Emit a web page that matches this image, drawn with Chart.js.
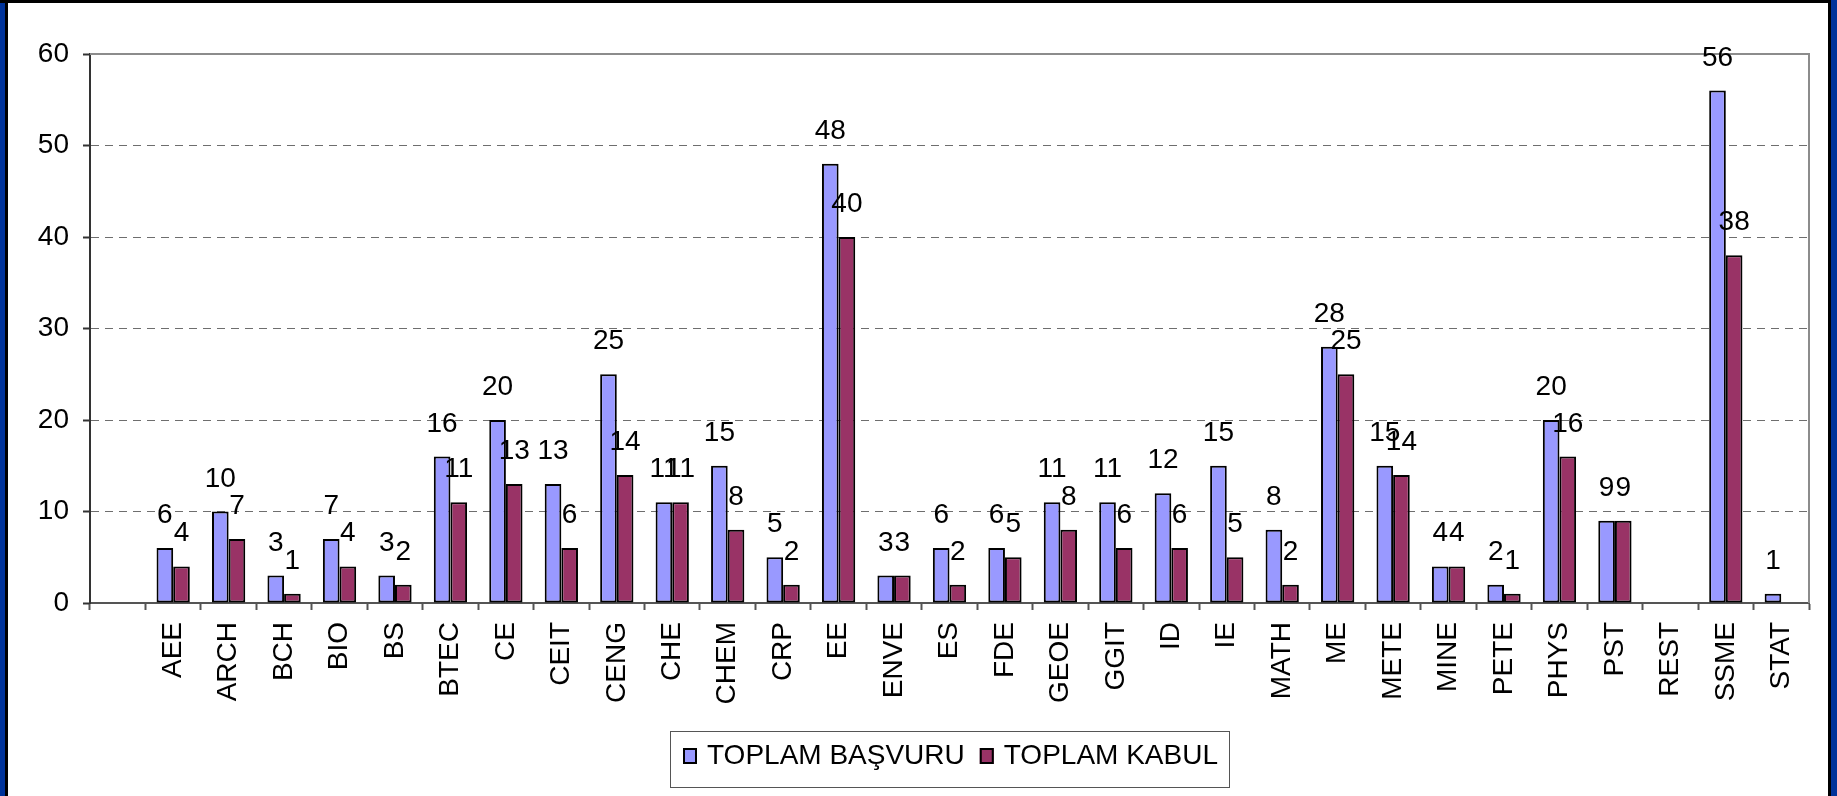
<!DOCTYPE html>
<html>
<head>
<meta charset="utf-8">
<script src="https://cdn.jsdelivr.net/npm/chart.js@4"></script>
<style>
html,body{margin:0;padding:0;background:#fff;width:1837px;height:796px;overflow:hidden;}
#wrap{position:absolute;left:0;top:0;width:1837px;height:796px;}
.f{position:absolute;pointer-events:none;}
</style>
</head>
<body>
<div id="wrap"><canvas id="c" width="1837" height="796"></canvas></div>
<div class="f" style="left:0;top:0;width:5px;height:796px;background:#00339a;"></div>
<div class="f" style="left:5px;top:0;width:3px;height:796px;background:#000;"></div>
<div class="f" style="left:0;top:0;width:1831px;height:3px;background:#000;"></div>
<div class="f" style="left:1828px;top:0;width:3px;height:796px;background:#000;"></div>
<div class="f" style="left:1831px;top:0;width:6px;height:796px;background:#00339a;"></div>
<script>
const categories = ['', 'AEE', 'ARCH', 'BCH', 'BIO', 'BS', 'BTEC', 'CE', 'CEIT', 'CENG', 'CHE', 'CHEM', 'CRP', 'EE', 'ENVE', 'ES', 'FDE', 'GEOE', 'GGIT', 'ID', 'IE', 'MATH', 'ME', 'METE', 'MINE', 'PETE', 'PHYS', 'PST', 'REST', 'SSME', 'STAT'];
const toplamBasvuru = [null, 6, 10, 3, 7, 3, 16, 20, 13, 25, 11, 15, 5, 48, 3, 6, 6, 11, 11, 12, 15, 8, 28, 15, 4, 2, 20, 9, null, 56, 1];
const toplamKabul = [null, 4, 7, 1, 4, 2, 11, 13, 6, 14, 11, 8, 2, 40, 3, 2, 5, 8, 6, 6, 5, 2, 25, 14, 4, 1, 16, 9, null, 38, null];
const seriesNames = ['TOPLAM BAŞVURU', 'TOPLAM KABUL'];
const seriesColors = ['#9999ff', '#993366'];
const yTicks = [0, 10, 20, 30, 40, 50, 60];

const FONT = "'Liberation Sans', Arial, sans-serif";

const labelPlugin = {
  id: 'valueLabels',
  afterDatasetsDraw(chart) {
    const ctx = chart.ctx;
    ctx.save();
    ctx.font = '28px ' + FONT;
    ctx.fillStyle = '#000';
    ctx.textAlign = 'center';
    ctx.textBaseline = 'alphabetic';
    chart.data.datasets.forEach((ds, di) => {
      const meta = chart.getDatasetMeta(di);
      meta.data.forEach((el, i) => {
        const v = ds.data[i];
        if (v === null || v === undefined) return;
        ctx.fillText(String(v), el.x, el.y - 25);
      });
    });
    ctx.restore();
  }
};

const framePlugin = {
  id: 'plotFrame',
  beforeDatasetsDraw(chart) {
    const a = chart.chartArea, ctx = chart.ctx;
    ctx.save();
    ctx.strokeStyle = '#8c8c8c';
    ctx.lineWidth = 2;
    ctx.beginPath();
    ctx.moveTo(a.left, a.top);
    ctx.lineTo(a.right, a.top);
    ctx.lineTo(a.right, a.bottom);
    ctx.stroke();
    ctx.restore();
  }
};

const legendPlugin = {
  id: 'boxLegend',
  afterDraw(chart) {
    const ctx = chart.ctx;
    ctx.save();
    ctx.font = '28px ' + FONT;
    const widths = chart.data.datasets.map(ds => ctx.measureText(ds.label).width);
    const sw = 14, sh = 16, gapST = 10, gapItems = 15, padL = 13, padR = 11;
    let inner = 0;
    widths.forEach((w, i) => { inner += sw + gapST + w + (i < widths.length - 1 ? gapItems : 0); });
    const boxW = Math.round(inner + padL + padR);
    const cx = (chart.chartArea.left + chart.chartArea.right) / 2;
    const left = Math.round(cx - boxW / 2);
    const top = chart.chartArea.bottom + 128;
    const boxH = 56;
    ctx.strokeStyle = '#555';
    ctx.lineWidth = 1;
    ctx.strokeRect(left + 0.5, top + 0.5, boxW, boxH);
    const baseline = top + 33;
    let x = left + padL;
    chart.data.datasets.forEach((ds, i) => {
      ctx.fillStyle = ds.backgroundColor;
      ctx.fillRect(x, baseline - sh, sw, sh);
      ctx.strokeStyle = '#000';
      ctx.lineWidth = 2;
      ctx.strokeRect(x + 1, baseline - sh + 1, sw - 2, sh - 2);
      x += sw + gapST;
      ctx.fillStyle = '#000';
      ctx.textAlign = 'left';
      ctx.textBaseline = 'alphabetic';
      ctx.fillText(ds.label, x, baseline);
      x += widths[i] + gapItems;
    });
    ctx.restore();
  }
};

new Chart(document.getElementById('c'), {
  type: 'bar',
  data: {
    labels: categories,
    datasets: [
      { label: seriesNames[0], data: toplamBasvuru, backgroundColor: seriesColors[0], borderColor: '#000', borderWidth: 2, borderSkipped: false, categoryPercentage: 0.6, barPercentage: 1.0 },
      { label: seriesNames[1], data: toplamKabul, backgroundColor: seriesColors[1], borderColor: '#000', borderWidth: 2, borderSkipped: false, categoryPercentage: 0.6, barPercentage: 1.0 }
    ]
  },
  options: {
    responsive: false,
    animation: false,
    devicePixelRatio: 1,
    layout: { padding: { left: 0, top: 54, right: 28, bottom: 63 } },
    plugins: {
      tooltip: { enabled: false },
      legend: { display: false }
    },
    scales: {
      x: {
        grid: { display: true, drawOnChartArea: false, drawTicks: true, tickLength: 7, tickColor: '#555', tickWidth: 2, offset: true },
        border: { display: true, color: '#555', width: 2 },
        ticks: { autoSkip: false, maxRotation: 90, minRotation: 90, padding: 12, color: '#000', font: { family: FONT, size: 28 } },
        afterFit(s) { s.height = 130; }
      },
      y: {
        min: 0, max: 60,
        afterBuildTicks(s) { s.ticks = yTicks.map(v => ({ value: v })); },
        grid: {
          color: c => (c.tick && (c.tick.value === 60 || c.tick.value === 0)) ? 'rgba(0,0,0,0)' : '#6e6e6e',
          lineWidth: 1,
          drawTicks: true, tickLength: 7, tickColor: '#333', tickWidth: 2
        },
        border: { display: true, color: '#333', width: 2, dash: [8, 6] },
        ticks: { padding: 14, color: '#000', font: { family: FONT, size: 28 } },
        afterFit(s) { s.width = 90; }
      }
    }
  },
  plugins: [labelPlugin, framePlugin, legendPlugin]
});
</script>
</body>
</html>
